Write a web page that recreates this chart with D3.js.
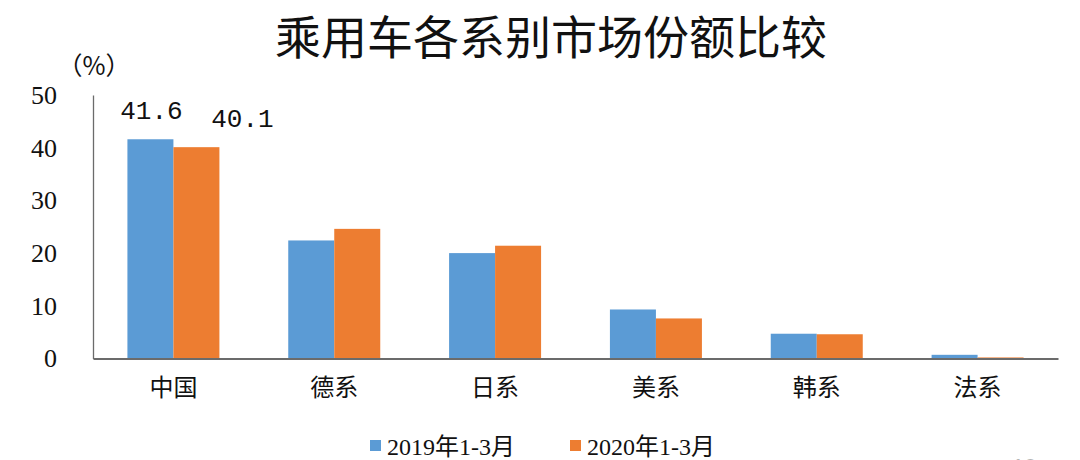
<!DOCTYPE html>
<html>
<head>
<meta charset="utf-8">
<script src="https://cdn.jsdelivr.net/npm/d3@7"></script>
<style>
    html, body { margin: 0; padding: 0; background: #ffffff; }
    svg { display: block; }
</style>
</head>
<body>
<div id="chart"></div>
<script>
(function () {
    "use strict";

    const categories = ["中国", "德系", "日系", "美系", "韩系", "法系"];
    const seriesNames = ["2019年1-3月", "2020年1-3月"];
    const values2019 = [41.6, 22.4, 20.0, 9.3, 4.7, 0.7];
    const values2020 = [40.1, 24.6, 21.4, 7.6, 4.6, 0.2];
    const yTicks = [0, 10, 20, 30, 40, 50];
    const labelledValues = [{ series: 0, index: 0 }, { series: 1, index: 0 }];

    const width = 1080;
    const height = 460;
    const margin = { left: 93, right: 22, top: 95, bottom: 101.5 };
    const colors = ["#5b9bd5", "#ed7d31"];
    const serifFamily = "'Liberation Serif', 'Noto Sans CJK SC', serif";
    const cjkFamily = "'Noto Sans CJK SC', 'Liberation Serif', sans-serif";

    const table = categories.map((name, i) => ({
        name,
        values: [values2019[i], values2020[i]]
    }));

    const svg = d3.select("#chart")
        .append("svg")
        .attr("width", width)
        .attr("height", height)
        .attr("viewBox", [0, 0, width, height]);

    const x = d3.scaleBand()
        .domain(categories)
        .range([margin.left, width - margin.right])
        .paddingInner(0.428)
        .paddingOuter(0.214);

    const xSeries = d3.scaleBand()
        .domain(d3.range(seriesNames.length))
        .range([0, x.bandwidth()]);

    const y = d3.scaleLinear()
        .domain([0, 50])
        .range([height - margin.bottom, margin.top]);

    // title
    svg.append("text")
        .attr("x", 551)
        .attr("y", 54)
        .attr("text-anchor", "middle")
        .attr("font-family", cjkFamily)
        .attr("font-size", 46)
        .attr("fill", "#111")
        .text("乘用车各系别市场份额比较");

    svg.append("text")
        .attr("x", 94)
        .attr("y", 75)
        .attr("text-anchor", "middle")
        .attr("font-family", cjkFamily)
        .attr("font-size", 25)
        .attr("fill", "#111")
        .text("（%）");

    // bars
    const groups = svg.append("g")
        .selectAll("g")
        .data(table)
        .join("g")
        .attr("transform", (d) => `translate(${x(d.name)},0)`);

    groups.selectAll("rect")
        .data((d) => d.values.map((v, s) => ({ v, s })))
        .join("rect")
        .attr("x", (d) => xSeries(d.s))
        .attr("width", xSeries.bandwidth())
        .attr("y", (d) => y(d.v))
        .attr("height", (d) => y(0) - y(d.v))
        .attr("fill", (d) => colors[d.s]);

    // y axis
    const yAxis = svg.append("g")
        .attr("transform", `translate(${margin.left},0)`)
        .call(d3.axisLeft(y).tickValues(yTicks).tickSize(0).tickPadding(36));
    yAxis.attr("font-family", serifFamily).attr("font-size", 26);
    yAxis.select(".domain").attr("stroke", "#6b6b6b").attr("stroke-width", 1.3);
    yAxis.selectAll("text").attr("fill", "#111");

    // x axis
    const xAxis = svg.append("g")
        .attr("transform", `translate(0,${y(0)})`)
        .call(d3.axisBottom(x).tickSize(0).tickPadding(20).tickSizeOuter(0));
    xAxis.attr("font-family", cjkFamily).attr("font-size", 24);
    xAxis.select(".domain").attr("stroke", "#6b6b6b").attr("stroke-width", 2);
    xAxis.selectAll("text").attr("fill", "#111");

    // value labels
    svg.append("g")
        .attr("font-family", "'Liberation Mono', monospace")
        .attr("font-size", 26)
        .attr("fill", "#111")
        .selectAll("text")
        .data(labelledValues)
        .join("text")
        .attr("x", (d) => x(categories[d.index]) + xSeries(d.series) + xSeries.bandwidth() / 2 + (d.series === 0 ? 1 : 46))
        .attr("y", (d) => y(d.series === 0 ? values2019[d.index] : values2020[d.index]) - 20)
        .attr("text-anchor", "middle")
        .text((d) => (d.series === 0 ? values2019[d.index] : values2020[d.index]).toFixed(1));

    // legend
    const legend = svg.append("g")
        .attr("font-family", serifFamily)
        .attr("font-size", 24)
        .selectAll("g")
        .data(seriesNames)
        .join("g")
        .attr("transform", (d, i) => `translate(${370 + i * 200},440)`);

    legend.append("rect")
        .attr("width", 11)
        .attr("height", 11)
        .attr("fill", (d, i) => colors[i]);

    legend.append("text")
        .attr("x", 17)
        .attr("y", 15)
        .attr("fill", "#111")
        .text((d) => d);

    // page number, cut off at the bottom edge as in the source slide
    svg.append("text")
        .attr("x", 1012)
        .attr("y", 474)
        .attr("font-family", "'Liberation Sans', sans-serif")
        .attr("font-size", 22)
        .attr("fill", "#b5b5b5")
        .text("10");
})();
</script>
</body>
</html>
